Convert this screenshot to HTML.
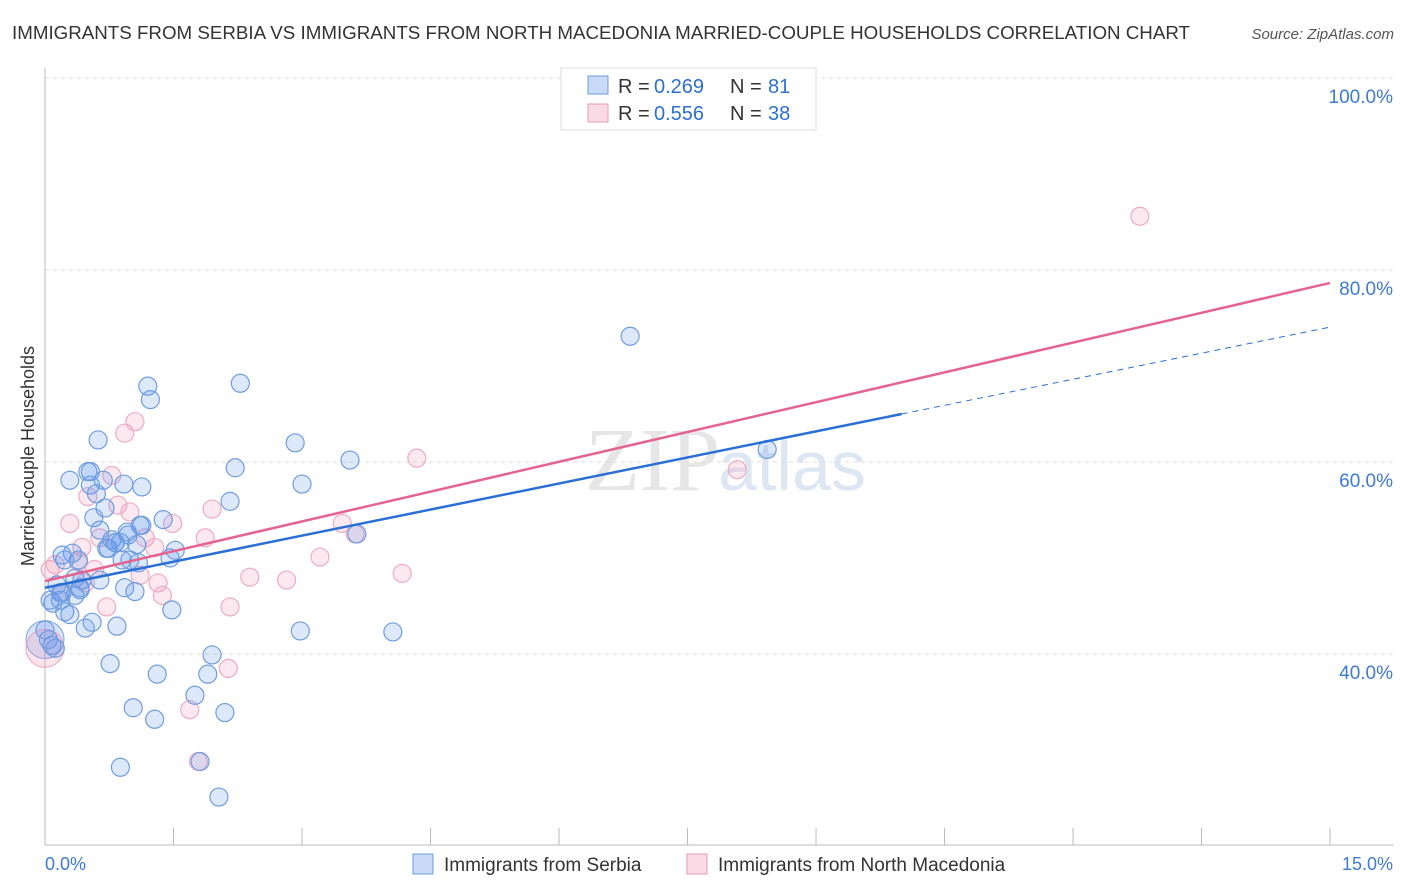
<!DOCTYPE html>
<html><head><meta charset="utf-8"><style>
body{margin:0;background:#fff;font-family:"Liberation Sans",sans-serif;}
svg{display:block}
</style></head><body>
<svg id="c" width="1406" height="892">
<text x="12" y="39" font-size="18" fill="#333" textLength="1178" lengthAdjust="spacingAndGlyphs">IMMIGRANTS FROM SERBIA VS IMMIGRANTS FROM NORTH MACEDONIA MARRIED-COUPLE HOUSEHOLDS CORRELATION CHART</text>
<text x="1394" y="39" font-size="15" fill="#555" text-anchor="end" font-style="italic">Source: ZipAtlas.com</text>
<text x="720" y="490" font-size="90" fill="#e6e6e6" text-anchor="end" font-family="Liberation Serif">ZIP</text>
<text x="718" y="490" font-size="70" fill="#dde6f3">atlas</text>
<text transform="translate(34,456) rotate(-90)" font-size="18" fill="#333" text-anchor="middle">Married-couple Households</text>
<g id="grid"></g><g id="pts"></g><g id="lines"></g>
<g>
<rect x="561" y="68" width="255" height="62" fill="#fff" stroke="#ddd"/>
<rect x="588" y="76" width="20" height="18" fill="rgba(100,149,237,0.35)" stroke="#6a9be0"/>
<rect x="588" y="104" width="20" height="18" fill="rgba(240,150,180,0.35)" stroke="#e89ab5"/>
<text x="618" y="93" font-size="20" fill="#333">R =</text><text x="654" y="93" font-size="20" fill="#2d6fd1">0.269</text>
<text x="730" y="93" font-size="20" fill="#333">N =</text><text x="768" y="93" font-size="20" fill="#2d6fd1">81</text>
<text x="618" y="120" font-size="20" fill="#333">R =</text><text x="654" y="120" font-size="20" fill="#2d6fd1">0.556</text>
<text x="730" y="120" font-size="20" fill="#333">N =</text><text x="768" y="120" font-size="20" fill="#2d6fd1">38</text>
</g>
<g>
<rect x="413" y="854" width="20" height="20" fill="rgba(100,149,237,0.35)" stroke="#6a9be0"/>
<text x="444" y="871" font-size="19" fill="#333">Immigrants from Serbia</text>
<rect x="687" y="854" width="20" height="20" fill="rgba(240,150,180,0.35)" stroke="#e89ab5"/>
<text x="718" y="871" font-size="19" fill="#333">Immigrants from North Macedonia</text>
</g>
</svg>
<script>
const serbiaX=[0.09,0.14,0.18,0.2,0.23,0.29,0.32,0.35,0.39,0.41,0.43,0.47,0.5,0.53,0.55,0.57,0.6,0.62,0.64,0.68,0.7,0.72,0.76,0.78,0.82,0.84,0.88,0.9,0.92,0.93,0.96,0.97,1.03,1.05,1.07,1.09,1.11,1.13,1.2,1.23,1.28,1.31,1.38,1.46,1.48,1.52,1.75,1.81,1.9,1.95,2.03,2.1,2.16,2.22,2.28,2.92,2.98,3.0,3.56,3.64,4.06,6.83,8.43,0.04,0.08,0.0,0.23,0.64,0.74,0.41,0.18,0.29,0.82,1.13,0.53,0.12,0.06,0.35,0.88,0.99,0.2];
const serbiaY=[45.3,47.2,46.4,50.3,44.4,58.1,50.5,47.9,49.8,46.7,47.7,42.7,59,57.6,43.3,54.2,56.7,62.3,52.9,58.1,55.2,51,39,51.9,51.6,42.9,28.2,49.8,57.7,46.9,52.7,52.4,34.4,46.5,51.4,49.5,53.4,57.4,67.9,66.5,33.2,37.9,54,50,44.6,50.8,35.7,28.8,37.9,39.9,25.1,33.9,55.9,59.4,68.2,62,42.4,57.7,60.2,52.5,42.3,73.1,61.3,41.5,40.9,42.5,49.8,47.7,51,46.9,45.6,44.1,51.6,53.4,59,40.6,45.6,46.1,51.6,49.8,46.4];
const macX=[0.06,0.12,0.2,0.29,0.39,0.43,0.47,0.5,0.58,0.64,0.72,0.78,0.85,0.93,0.99,1.05,1.11,1.17,1.28,1.32,1.37,1.49,1.69,1.79,1.87,1.95,2.16,2.14,2.39,2.82,3.21,3.47,3.62,4.17,4.34,8.08,12.78];
const macY=[48.8,49.3,46.4,53.6,49.6,51.1,47.4,56.4,48.8,52.1,44.9,58.6,55.5,63,54.8,64.2,48.2,52.1,51.1,47.4,46.1,53.6,34.2,28.8,52.1,55.1,44.9,38.5,48,47.7,50.1,53.6,52.5,48.4,60.4,59.2,85.6];
const bigX=[0.0,0.0];const bigY=[41.5,40.6];
const serbiaLine=[46.9,1.81];const macLine=[47.6,2.07];
const xTicks=[0,1.5,3,4.5,6,7.5,9,10.5,12,13.5,15];
const yTicks=[40,60,80,100];const yLabels=["40.0%","60.0%","80.0%","100.0%"];
const X=v=>45+v*85.67, Y=v=>654-(v-40)*9.6;
const NS="http://www.w3.org/2000/svg";
function mk(t,a,p){const e=document.createElementNS(NS,t);for(const k in a)e.setAttribute(k,a[k]);p.appendChild(e);return e;}
const g=document.getElementById('grid');
yTicks.forEach((v,i)=>{
 const l=mk('line',{x1:45,x2:1394,y1:Y(v),y2:Y(v),stroke:'#ddd','stroke-dasharray':'4,4'},g);
 
 
 const t=mk('text',{x:1393,y:Y(v)+25,'font-size':19,fill:'#3d7ad6','text-anchor':'end'},g);t.textContent=yLabels[i];
 
 
});
mk('line',{x1:45,x2:45,y1:68,y2:845,stroke:'#bbb'},g);
mk('line',{x1:45,x2:1394,y1:845,y2:845,stroke:'#bbb'},g);
xTicks.forEach(v=>{const l=mk('line',{x1:X(v),x2:X(v),y1:828,y2:845,stroke:'#bbb'},g);
 
 });
let t=mk('text',{x:45,y:870,'font-size':18,fill:'#3d7ad6'},g);t.textContent='0.0%';


t=mk('text',{x:1393,y:870,'font-size':18,fill:'#3d7ad6','text-anchor':'end'},g);t.textContent='15.0%';


const p=document.getElementById('pts');
bigX.forEach((v,i)=>{const c=mk('circle',{cx:X(v),cy:Y(bigY[i]),r:19,fill:i?'rgba(240,150,180,0.25)':'rgba(100,149,237,0.25)',stroke:i?'#eaa0ba':'#7aa5e3'},p);
 
 });
macX.forEach((v,i)=>{const c=mk('circle',{cx:X(v),cy:Y(macY[i]),r:9,fill:'rgba(240,150,180,0.22)',stroke:'#eeabc3','stroke-width':1.2},p);
 
 });
serbiaX.forEach((v,i)=>{const c=mk('circle',{cx:X(v),cy:Y(serbiaY[i]),r:9,fill:'rgba(100,149,237,0.22)',stroke:'#6f9de0','stroke-width':1.2},p);
 
 });
const L=document.getElementById('lines');
const f=(a,x)=>a[0]+a[1]*x;
let l=mk('line',{x1:X(0),y1:Y(f(serbiaLine,0)),x2:X(10),y2:Y(f(serbiaLine,10)),stroke:'#2a6fd6','stroke-width':2.5},L);


l=mk('line',{x1:X(10),y1:Y(f(serbiaLine,10)),x2:X(15),y2:Y(f(serbiaLine,15)),stroke:'#2a6fd6','stroke-width':1,'stroke-dasharray':'6,5'},L);


l=mk('line',{x1:X(0),y1:Y(f(macLine,0)),x2:X(15),y2:Y(f(macLine,15)),stroke:'#e5638e','stroke-width':2.5},L);


</script>
</body></html>
